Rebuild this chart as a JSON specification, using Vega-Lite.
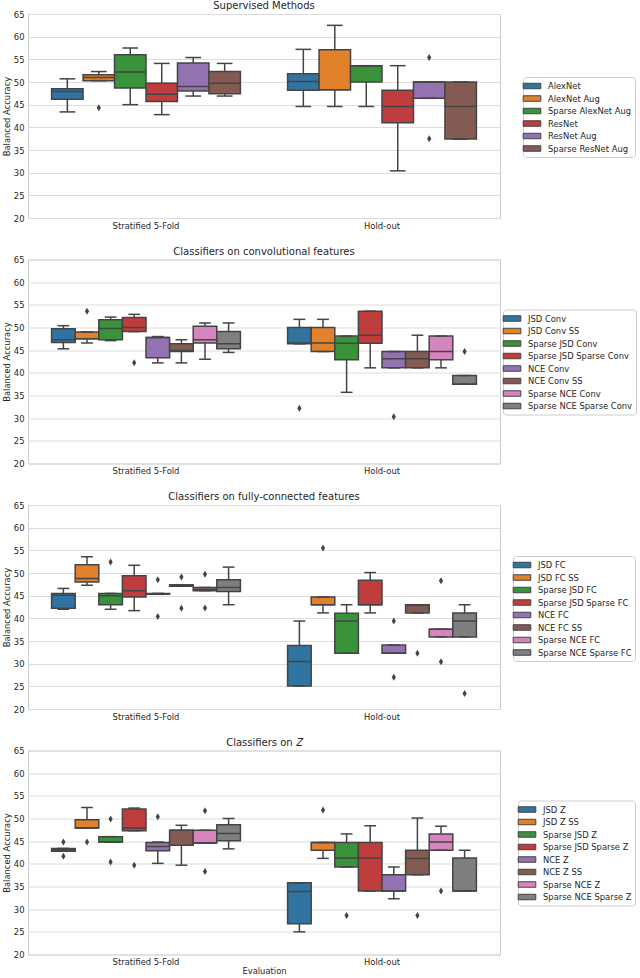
{
"$schema":"https://vega.github.io/schema/vega-lite/v6.json",
"padding":{"left":1,"top":0,"right":0,"bottom":0},
"spacing":15.5,
"datasets":{
"b1":[
{"g":"Stratified 5-Fold","m":"AlexNet","lo":43.4,"q1":46.2,"med":47.9,"q3":48.5,"hi":50.7},
{"g":"Stratified 5-Fold","m":"AlexNet Aug","lo":50.3,"q1":50.3,"med":51.0,"q3":51.6,"hi":52.3},
{"g":"Stratified 5-Fold","m":"Sparse AlexNet Aug","lo":45.0,"q1":48.7,"med":52.2,"q3":56.0,"hi":57.5},
{"g":"Stratified 5-Fold","m":"ResNet","lo":42.8,"q1":45.7,"med":47.3,"q3":49.7,"hi":54.1},
{"g":"Stratified 5-Fold","m":"ResNet Aug","lo":46.9,"q1":48.0,"med":49.0,"q3":54.2,"hi":55.4},
{"g":"Stratified 5-Fold","m":"Sparse ResNet Aug","lo":46.9,"q1":47.4,"med":49.7,"q3":52.3,"hi":54.1},
{"g":"Hold-out","m":"AlexNet","lo":44.6,"q1":48.2,"med":50.1,"q3":51.8,"hi":57.2},
{"g":"Hold-out","m":"AlexNet Aug","lo":44.6,"q1":48.3,"med":48.3,"q3":57.1,"hi":62.5},
{"g":"Hold-out","m":"Sparse AlexNet Aug","lo":44.6,"q1":50.0,"med":53.6,"q3":53.6,"hi":53.6},
{"g":"Hold-out","m":"ResNet","lo":30.4,"q1":41.0,"med":44.6,"q3":48.2,"hi":53.6},
{"g":"Hold-out","m":"ResNet Aug","lo":46.4,"q1":46.4,"med":50.0,"q3":50.0,"hi":50.0},
{"g":"Hold-out","m":"Sparse ResNet Aug","lo":37.4,"q1":37.4,"med":44.6,"q3":50.0,"hi":50.0}
],
"o1":[
{"g":"Stratified 5-Fold","m":"AlexNet Aug","v":44.3},
{"g":"Hold-out","m":"ResNet Aug","v":55.4},
{"g":"Hold-out","m":"ResNet Aug","v":37.5}
],
"b2":[
{"g":"Stratified 5-Fold","m":"JSD Conv","lo":45.3,"q1":46.7,"med":47.3,"q3":49.7,"hi":50.4},
{"g":"Stratified 5-Fold","m":"JSD Conv SS","lo":46.6,"q1":47.5,"med":47.5,"q3":49.0,"hi":49.0},
{"g":"Stratified 5-Fold","m":"Sparse JSD Conv","lo":47.1,"q1":47.3,"med":49.8,"q3":51.7,"hi":52.3},
{"g":"Stratified 5-Fold","m":"Sparse JSD Sparse Conv","lo":49.1,"q1":49.1,"med":50.0,"q3":52.2,"hi":52.9},
{"g":"Stratified 5-Fold","m":"NCE Conv","lo":42.2,"q1":43.3,"med":47.8,"q3":47.8,"hi":48.0},
{"g":"Stratified 5-Fold","m":"NCE Conv SS","lo":42.2,"q1":44.7,"med":44.9,"q3":46.4,"hi":47.3},
{"g":"Stratified 5-Fold","m":"Sparse NCE Conv","lo":43.0,"q1":46.6,"med":47.3,"q3":50.3,"hi":51.0},
{"g":"Stratified 5-Fold","m":"Sparse NCE Sparse Conv","lo":44.5,"q1":45.3,"med":46.4,"q3":49.1,"hi":51.0},
{"g":"Hold-out","m":"JSD Conv","lo":46.4,"q1":46.4,"med":46.6,"q3":50.0,"hi":51.8},
{"g":"Hold-out","m":"JSD Conv SS","lo":44.7,"q1":44.7,"med":46.6,"q3":50.0,"hi":51.8},
{"g":"Hold-out","m":"Sparse JSD Conv","lo":35.7,"q1":42.9,"med":46.5,"q3":48.1,"hi":48.1},
{"g":"Hold-out","m":"Sparse JSD Sparse Conv","lo":41.1,"q1":46.5,"med":48.3,"q3":53.6,"hi":53.6},
{"g":"Hold-out","m":"NCE Conv","lo":41.1,"q1":41.1,"med":43.1,"q3":44.7,"hi":44.7},
{"g":"Hold-out","m":"NCE Conv SS","lo":41.1,"q1":41.1,"med":43.1,"q3":44.7,"hi":48.3},
{"g":"Hold-out","m":"Sparse NCE Conv","lo":41.1,"q1":42.9,"med":44.7,"q3":48.1,"hi":48.1},
{"g":"Hold-out","m":"Sparse NCE Sparse Conv","lo":37.5,"q1":37.5,"med":37.5,"q3":39.4,"hi":39.4}
],
"o2":[
{"g":"Stratified 5-Fold","m":"JSD Conv SS","v":53.6},
{"g":"Stratified 5-Fold","m":"Sparse JSD Sparse Conv","v":42.2},
{"g":"Hold-out","m":"JSD Conv","v":32.2},
{"g":"Hold-out","m":"NCE Conv","v":30.3},
{"g":"Hold-out","m":"Sparse NCE Sparse Conv","v":44.7}
],
"b3":[
{"g":"Stratified 5-Fold","m":"JSD FC","lo":42.0,"q1":42.2,"med":45.1,"q3":45.5,"hi":46.6},
{"g":"Stratified 5-Fold","m":"JSD FC SS","lo":47.3,"q1":48.0,"med":48.8,"q3":51.8,"hi":53.6},
{"g":"Stratified 5-Fold","m":"Sparse JSD FC","lo":42.0,"q1":43.0,"med":45.0,"q3":45.5,"hi":45.5},
{"g":"Stratified 5-Fold","m":"Sparse JSD Sparse FC","lo":41.7,"q1":44.7,"med":46.1,"q3":49.4,"hi":51.7},
{"g":"Stratified 5-Fold","m":"NCE FC","lo":45.3,"q1":45.3,"med":45.3,"q3":45.5,"hi":45.5},
{"g":"Stratified 5-Fold","m":"NCE FC SS","lo":47.1,"q1":47.1,"med":47.1,"q3":47.4,"hi":47.4},
{"g":"Stratified 5-Fold","m":"Sparse NCE FC","lo":46.1,"q1":46.1,"med":46.4,"q3":46.8,"hi":46.8},
{"g":"Stratified 5-Fold","m":"Sparse NCE Sparse FC","lo":43.0,"q1":45.9,"med":46.8,"q3":48.5,"hi":51.3},
{"g":"Hold-out","m":"JSD FC","lo":25.1,"q1":25.1,"med":30.5,"q3":34.0,"hi":39.4},
{"g":"Hold-out","m":"JSD FC SS","lo":41.2,"q1":43.0,"med":43.0,"q3":44.7,"hi":44.7},
{"g":"Hold-out","m":"Sparse JSD FC","lo":32.3,"q1":32.3,"med":39.4,"q3":41.1,"hi":43.0},
{"g":"Hold-out","m":"Sparse JSD Sparse FC","lo":41.2,"q1":43.0,"med":43.0,"q3":48.4,"hi":50.1},
{"g":"Hold-out","m":"NCE FC","lo":32.3,"q1":32.3,"med":32.3,"q3":34.1,"hi":34.1},
{"g":"Hold-out","m":"NCE FC SS","lo":41.2,"q1":41.2,"med":43.0,"q3":43.0,"hi":43.0},
{"g":"Hold-out","m":"Sparse NCE FC","lo":35.9,"q1":35.9,"med":37.6,"q3":37.6,"hi":37.6},
{"g":"Hold-out","m":"Sparse NCE Sparse FC","lo":35.9,"q1":35.9,"med":39.4,"q3":41.2,"hi":43.0}
],
"o3":[
{"g":"Stratified 5-Fold","m":"Sparse JSD FC","v":52.4},
{"g":"Stratified 5-Fold","m":"NCE FC","v":48.5},
{"g":"Stratified 5-Fold","m":"NCE FC","v":40.4},
{"g":"Stratified 5-Fold","m":"NCE FC SS","v":49.1},
{"g":"Stratified 5-Fold","m":"NCE FC SS","v":42.2},
{"g":"Stratified 5-Fold","m":"Sparse NCE FC","v":49.7},
{"g":"Stratified 5-Fold","m":"Sparse NCE FC","v":42.3},
{"g":"Hold-out","m":"JSD FC SS","v":55.5},
{"g":"Hold-out","m":"NCE FC","v":39.4},
{"g":"Hold-out","m":"NCE FC","v":27.0},
{"g":"Hold-out","m":"NCE FC SS","v":32.3},
{"g":"Hold-out","m":"Sparse NCE FC","v":48.3},
{"g":"Hold-out","m":"Sparse NCE FC","v":30.4},
{"g":"Hold-out","m":"Sparse NCE Sparse FC","v":23.4}
],
"b4":[
{"g":"Stratified 5-Fold","m":"JSD Z","lo":42.8,"q1":42.8,"med":43.1,"q3":43.4,"hi":43.4},
{"g":"Stratified 5-Fold","m":"JSD Z SS","lo":47.9,"q1":47.9,"med":47.9,"q3":49.7,"hi":52.4},
{"g":"Stratified 5-Fold","m":"Sparse JSD Z","lo":44.8,"q1":44.8,"med":44.8,"q3":46.0,"hi":46.0},
{"g":"Stratified 5-Fold","m":"Sparse JSD Sparse Z","lo":47.3,"q1":47.3,"med":47.9,"q3":52.1,"hi":52.3},
{"g":"Stratified 5-Fold","m":"NCE Z","lo":40.1,"q1":42.9,"med":43.8,"q3":44.7,"hi":44.8},
{"g":"Stratified 5-Fold","m":"NCE Z SS","lo":39.7,"q1":44.1,"med":47.4,"q3":47.4,"hi":48.5},
{"g":"Stratified 5-Fold","m":"Sparse NCE Z","lo":44.6,"q1":44.6,"med":44.6,"q3":47.4,"hi":47.4},
{"g":"Stratified 5-Fold","m":"Sparse NCE Sparse Z","lo":43.3,"q1":45.1,"med":46.7,"q3":48.6,"hi":50.0},
{"g":"Hold-out","m":"JSD Z","lo":25.0,"q1":26.8,"med":33.9,"q3":35.8,"hi":35.8},
{"g":"Hold-out","m":"JSD Z SS","lo":41.2,"q1":43.0,"med":44.7,"q3":44.7,"hi":44.7},
{"g":"Hold-out","m":"Sparse JSD Z","lo":39.3,"q1":39.3,"med":41.3,"q3":44.7,"hi":46.6},
{"g":"Hold-out","m":"Sparse JSD Sparse Z","lo":34.0,"q1":34.0,"med":41.3,"q3":44.7,"hi":48.4},
{"g":"Hold-out","m":"NCE Z","lo":32.3,"q1":34.0,"med":34.0,"q3":37.6,"hi":39.3},
{"g":"Hold-out","m":"NCE Z SS","lo":37.6,"q1":37.6,"med":41.2,"q3":43.0,"hi":50.1},
{"g":"Hold-out","m":"Sparse NCE Z","lo":43.0,"q1":43.0,"med":44.8,"q3":46.6,"hi":48.3},
{"g":"Hold-out","m":"Sparse NCE Sparse Z","lo":34.0,"q1":34.0,"med":34.0,"q3":41.3,"hi":43.0}
],
"o4":[
{"g":"Stratified 5-Fold","m":"JSD Z","v":44.8},
{"g":"Stratified 5-Fold","m":"JSD Z","v":41.7},
{"g":"Stratified 5-Fold","m":"JSD Z SS","v":44.8},
{"g":"Stratified 5-Fold","m":"Sparse JSD Z","v":49.9},
{"g":"Stratified 5-Fold","m":"Sparse JSD Z","v":40.4},
{"g":"Stratified 5-Fold","m":"Sparse JSD Sparse Z","v":39.7},
{"g":"Stratified 5-Fold","m":"NCE Z","v":50.4},
{"g":"Stratified 5-Fold","m":"Sparse NCE Z","v":51.7},
{"g":"Stratified 5-Fold","m":"Sparse NCE Z","v":38.3},
{"g":"Hold-out","m":"JSD Z SS","v":51.9},
{"g":"Hold-out","m":"Sparse JSD Z","v":28.6},
{"g":"Hold-out","m":"NCE Z SS","v":28.6},
{"g":"Hold-out","m":"Sparse NCE Z","v":34.0}
]
},
"vconcat":[
{
"width":472,"height":204,
"title":"Supervised Methods",
"layer":[
{"data":{"name":"b1"},"mark":{"type":"rule","color":"#444444","strokeWidth":1.5},
"encoding":{"x":{"field":"g","type":"nominal","sort":["Stratified 5-Fold","Hold-out"],"scale":{"paddingInner":0.2,"paddingOuter":0.1},"title":null},
"xOffset":{"field":"m","type":"nominal","scale":{"domain":["AlexNet","AlexNet Aug","Sparse AlexNet Aug","ResNet","ResNet Aug","Sparse ResNet Aug"],"paddingInner":0,"paddingOuter":0}},
"y":{"field":"lo","type":"quantitative","scale":{"domain":[20,65],"nice":false,"zero":false},"axis":{"values":[20,25,30,35,40,45,50,55,60,65],"labelOverlap":false},"title":"Balanced Accuracy"},"y2":{"field":"hi"}}},
{"data":{"name":"b1"},"mark":{"type":"bar","stroke":"#444444","strokeWidth":1.5},
"encoding":{"x":{"field":"g","type":"nominal","sort":["Stratified 5-Fold","Hold-out"],"title":null},
"xOffset":{"field":"m","type":"nominal"},
"y":{"field":"q1","type":"quantitative","scale":{"domain":[20,65],"nice":false,"zero":false},"axis":{"values":[20,25,30,35,40,45,50,55,60,65],"labelOverlap":false},"title":"Balanced Accuracy"},"y2":{"field":"q3"},
"color":{"field":"m","type":"nominal","scale":{"domain":["AlexNet","AlexNet Aug","Sparse AlexNet Aug","ResNet","ResNet Aug","Sparse ResNet Aug"],"range":["#3274a1","#e1812c","#3a923a","#c03d3e","#9372b2","#845b53"]},"legend":{"orient":"none","legendX":495,"legendY":63}}}},
{"data":{"name":"b1"},"mark":{"type":"bar","fillOpacity":0,"stroke":"#444444","strokeWidth":1.5},
"encoding":{"x":{"field":"g","type":"nominal","sort":["Stratified 5-Fold","Hold-out"],"title":null},"xOffset":{"field":"m","type":"nominal"},
"y":{"field":"med","type":"quantitative","scale":{"domain":[20,65],"nice":false,"zero":false},"axis":{"values":[20,25,30,35,40,45,50,55,60,65],"labelOverlap":false},"title":"Balanced Accuracy"},"y2":{"field":"med"}}},
{"data":{"name":"b1"},"mark":{"type":"tick","color":"#444444","thickness":1.5,"size":15.7,"opacity":1},
"encoding":{"x":{"field":"g","type":"nominal","sort":["Stratified 5-Fold","Hold-out"],"title":null},"xOffset":{"field":"m","type":"nominal"},
"y":{"field":"lo","type":"quantitative","scale":{"domain":[20,65],"nice":false,"zero":false},"axis":{"values":[20,25,30,35,40,45,50,55,60,65],"labelOverlap":false},"title":"Balanced Accuracy"}}},
{"data":{"name":"b1"},"mark":{"type":"tick","color":"#444444","thickness":1.5,"size":15.7,"opacity":1},
"encoding":{"x":{"field":"g","type":"nominal","sort":["Stratified 5-Fold","Hold-out"],"title":null},"xOffset":{"field":"m","type":"nominal"},
"y":{"field":"hi","type":"quantitative","scale":{"domain":[20,65],"nice":false,"zero":false},"axis":{"values":[20,25,30,35,40,45,50,55,60,65],"labelOverlap":false},"title":"Balanced Accuracy"}}},
{"data":{"name":"o1"},"mark":{"type":"point","shape":"M0,-1L0.6,0L0,1L-0.6,0Z","filled":true,"color":"#444444","opacity":1,"size":49},
"encoding":{"x":{"field":"g","type":"nominal","sort":["Stratified 5-Fold","Hold-out"],"title":null},"xOffset":{"field":"m","type":"nominal"},
"y":{"field":"v","type":"quantitative","scale":{"domain":[20,65],"nice":false,"zero":false},"axis":{"values":[20,25,30,35,40,45,50,55,60,65],"labelOverlap":false},"title":"Balanced Accuracy"}}}
]
},
{
"width":472,"height":204,
"title":"Classifiers on convolutional features",
"layer":[
{"data":{"name":"b2"},"mark":{"type":"rule","color":"#444444","strokeWidth":1.5},
"encoding":{"x":{"field":"g","type":"nominal","sort":["Stratified 5-Fold","Hold-out"],"scale":{"paddingInner":0.2,"paddingOuter":0.1},"title":null},
"xOffset":{"field":"m","type":"nominal","scale":{"domain":["JSD Conv","JSD Conv SS","Sparse JSD Conv","Sparse JSD Sparse Conv","NCE Conv","NCE Conv SS","Sparse NCE Conv","Sparse NCE Sparse Conv"],"paddingInner":0,"paddingOuter":0}},
"y":{"field":"lo","type":"quantitative","scale":{"domain":[20,65],"nice":false,"zero":false},"axis":{"values":[20,25,30,35,40,45,50,55,60,65],"labelOverlap":false},"title":"Balanced Accuracy"},"y2":{"field":"hi"}}},
{"data":{"name":"b2"},"mark":{"type":"bar","stroke":"#444444","strokeWidth":1.5},
"encoding":{"x":{"field":"g","type":"nominal","sort":["Stratified 5-Fold","Hold-out"],"title":null},
"xOffset":{"field":"m","type":"nominal"},
"y":{"field":"q1","type":"quantitative","scale":{"domain":[20,65],"nice":false,"zero":false},"axis":{"values":[20,25,30,35,40,45,50,55,60,65],"labelOverlap":false},"title":"Balanced Accuracy"},"y2":{"field":"q3"},
"color":{"field":"m","type":"nominal","scale":{"domain":["JSD Conv","JSD Conv SS","Sparse JSD Conv","Sparse JSD Sparse Conv","NCE Conv","NCE Conv SS","Sparse NCE Conv","Sparse NCE Sparse Conv"],"range":["#3274a1","#e1812c","#3a923a","#c03d3e","#9372b2","#845b53","#d684bd","#7f7f7f"]},"legend":{"orient":"none","legendX":475,"legendY":50}}}},
{"data":{"name":"b2"},"mark":{"type":"bar","fillOpacity":0,"stroke":"#444444","strokeWidth":1.5},
"encoding":{"x":{"field":"g","type":"nominal","sort":["Stratified 5-Fold","Hold-out"],"title":null},"xOffset":{"field":"m","type":"nominal"},
"y":{"field":"med","type":"quantitative","scale":{"domain":[20,65],"nice":false,"zero":false},"axis":{"values":[20,25,30,35,40,45,50,55,60,65],"labelOverlap":false},"title":"Balanced Accuracy"},"y2":{"field":"med"}}},
{"data":{"name":"b2"},"mark":{"type":"tick","color":"#444444","thickness":1.5,"size":11.8,"opacity":1},
"encoding":{"x":{"field":"g","type":"nominal","sort":["Stratified 5-Fold","Hold-out"],"title":null},"xOffset":{"field":"m","type":"nominal"},
"y":{"field":"lo","type":"quantitative","scale":{"domain":[20,65],"nice":false,"zero":false},"axis":{"values":[20,25,30,35,40,45,50,55,60,65],"labelOverlap":false},"title":"Balanced Accuracy"}}},
{"data":{"name":"b2"},"mark":{"type":"tick","color":"#444444","thickness":1.5,"size":11.8,"opacity":1},
"encoding":{"x":{"field":"g","type":"nominal","sort":["Stratified 5-Fold","Hold-out"],"title":null},"xOffset":{"field":"m","type":"nominal"},
"y":{"field":"hi","type":"quantitative","scale":{"domain":[20,65],"nice":false,"zero":false},"axis":{"values":[20,25,30,35,40,45,50,55,60,65],"labelOverlap":false},"title":"Balanced Accuracy"}}},
{"data":{"name":"o2"},"mark":{"type":"point","shape":"M0,-1L0.6,0L0,1L-0.6,0Z","filled":true,"color":"#444444","opacity":1,"size":49},
"encoding":{"x":{"field":"g","type":"nominal","sort":["Stratified 5-Fold","Hold-out"],"title":null},"xOffset":{"field":"m","type":"nominal"},
"y":{"field":"v","type":"quantitative","scale":{"domain":[20,65],"nice":false,"zero":false},"axis":{"values":[20,25,30,35,40,45,50,55,60,65],"labelOverlap":false},"title":"Balanced Accuracy"}}}
]
},
{
"width":472,"height":204,
"title":"Classifiers on fully-connected features",
"layer":[
{"data":{"name":"b3"},"mark":{"type":"rule","color":"#444444","strokeWidth":1.5},
"encoding":{"x":{"field":"g","type":"nominal","sort":["Stratified 5-Fold","Hold-out"],"scale":{"paddingInner":0.2,"paddingOuter":0.1},"title":null},
"xOffset":{"field":"m","type":"nominal","scale":{"domain":["JSD FC","JSD FC SS","Sparse JSD FC","Sparse JSD Sparse FC","NCE FC","NCE FC SS","Sparse NCE FC","Sparse NCE Sparse FC"],"paddingInner":0,"paddingOuter":0}},
"y":{"field":"lo","type":"quantitative","scale":{"domain":[20,65],"nice":false,"zero":false},"axis":{"values":[20,25,30,35,40,45,50,55,60,65],"labelOverlap":false},"title":"Balanced Accuracy"},"y2":{"field":"hi"}}},
{"data":{"name":"b3"},"mark":{"type":"bar","stroke":"#444444","strokeWidth":1.5},
"encoding":{"x":{"field":"g","type":"nominal","sort":["Stratified 5-Fold","Hold-out"],"title":null},
"xOffset":{"field":"m","type":"nominal"},
"y":{"field":"q1","type":"quantitative","scale":{"domain":[20,65],"nice":false,"zero":false},"axis":{"values":[20,25,30,35,40,45,50,55,60,65],"labelOverlap":false},"title":"Balanced Accuracy"},"y2":{"field":"q3"},
"color":{"field":"m","type":"nominal","scale":{"domain":["JSD FC","JSD FC SS","Sparse JSD FC","Sparse JSD Sparse FC","NCE FC","NCE FC SS","Sparse NCE FC","Sparse NCE Sparse FC"],"range":["#3274a1","#e1812c","#3a923a","#c03d3e","#9372b2","#845b53","#d684bd","#7f7f7f"]},"legend":{"orient":"none","legendX":485,"legendY":51}}}},
{"data":{"name":"b3"},"mark":{"type":"bar","fillOpacity":0,"stroke":"#444444","strokeWidth":1.5},
"encoding":{"x":{"field":"g","type":"nominal","sort":["Stratified 5-Fold","Hold-out"],"title":null},"xOffset":{"field":"m","type":"nominal"},
"y":{"field":"med","type":"quantitative","scale":{"domain":[20,65],"nice":false,"zero":false},"axis":{"values":[20,25,30,35,40,45,50,55,60,65],"labelOverlap":false},"title":"Balanced Accuracy"},"y2":{"field":"med"}}},
{"data":{"name":"b3"},"mark":{"type":"tick","color":"#444444","thickness":1.5,"size":11.8,"opacity":1},
"encoding":{"x":{"field":"g","type":"nominal","sort":["Stratified 5-Fold","Hold-out"],"title":null},"xOffset":{"field":"m","type":"nominal"},
"y":{"field":"lo","type":"quantitative","scale":{"domain":[20,65],"nice":false,"zero":false},"axis":{"values":[20,25,30,35,40,45,50,55,60,65],"labelOverlap":false},"title":"Balanced Accuracy"}}},
{"data":{"name":"b3"},"mark":{"type":"tick","color":"#444444","thickness":1.5,"size":11.8,"opacity":1},
"encoding":{"x":{"field":"g","type":"nominal","sort":["Stratified 5-Fold","Hold-out"],"title":null},"xOffset":{"field":"m","type":"nominal"},
"y":{"field":"hi","type":"quantitative","scale":{"domain":[20,65],"nice":false,"zero":false},"axis":{"values":[20,25,30,35,40,45,50,55,60,65],"labelOverlap":false},"title":"Balanced Accuracy"}}},
{"data":{"name":"o3"},"mark":{"type":"point","shape":"M0,-1L0.6,0L0,1L-0.6,0Z","filled":true,"color":"#444444","opacity":1,"size":49},
"encoding":{"x":{"field":"g","type":"nominal","sort":["Stratified 5-Fold","Hold-out"],"title":null},"xOffset":{"field":"m","type":"nominal"},
"y":{"field":"v","type":"quantitative","scale":{"domain":[20,65],"nice":false,"zero":false},"axis":{"values":[20,25,30,35,40,45,50,55,60,65],"labelOverlap":false},"title":"Balanced Accuracy"}}}
]
},
{
"width":472,"height":204,
"title":"Classifiers on 𝑍",
"layer":[
{"data":{"name":"b4"},"mark":{"type":"rule","color":"#444444","strokeWidth":1.5},
"encoding":{"x":{"field":"g","type":"nominal","sort":["Stratified 5-Fold","Hold-out"],"scale":{"paddingInner":0.2,"paddingOuter":0.1},"title":"Evaluation"},
"xOffset":{"field":"m","type":"nominal","scale":{"domain":["JSD Z","JSD Z SS","Sparse JSD Z","Sparse JSD Sparse Z","NCE Z","NCE Z SS","Sparse NCE Z","Sparse NCE Sparse Z"],"paddingInner":0,"paddingOuter":0}},
"y":{"field":"lo","type":"quantitative","scale":{"domain":[20,65],"nice":false,"zero":false},"axis":{"values":[20,25,30,35,40,45,50,55,60,65],"labelOverlap":false},"title":"Balanced Accuracy"},"y2":{"field":"hi"}}},
{"data":{"name":"b4"},"mark":{"type":"bar","stroke":"#444444","strokeWidth":1.5},
"encoding":{"x":{"field":"g","type":"nominal","sort":["Stratified 5-Fold","Hold-out"],"title":"Evaluation"},
"xOffset":{"field":"m","type":"nominal"},
"y":{"field":"q1","type":"quantitative","scale":{"domain":[20,65],"nice":false,"zero":false},"axis":{"values":[20,25,30,35,40,45,50,55,60,65],"labelOverlap":false},"title":"Balanced Accuracy"},"y2":{"field":"q3"},
"color":{"field":"m","type":"nominal","scale":{"domain":["JSD Z","JSD Z SS","Sparse JSD Z","Sparse JSD Sparse Z","NCE Z","NCE Z SS","Sparse NCE Z","Sparse NCE Sparse Z"],"range":["#3274a1","#e1812c","#3a923a","#c03d3e","#9372b2","#845b53","#d684bd","#7f7f7f"]},"legend":{"orient":"none","legendX":490,"legendY":50}}}},
{"data":{"name":"b4"},"mark":{"type":"bar","fillOpacity":0,"stroke":"#444444","strokeWidth":1.5},
"encoding":{"x":{"field":"g","type":"nominal","sort":["Stratified 5-Fold","Hold-out"],"title":"Evaluation"},"xOffset":{"field":"m","type":"nominal"},
"y":{"field":"med","type":"quantitative","scale":{"domain":[20,65],"nice":false,"zero":false},"axis":{"values":[20,25,30,35,40,45,50,55,60,65],"labelOverlap":false},"title":"Balanced Accuracy"},"y2":{"field":"med"}}},
{"data":{"name":"b4"},"mark":{"type":"tick","color":"#444444","thickness":1.5,"size":11.8,"opacity":1},
"encoding":{"x":{"field":"g","type":"nominal","sort":["Stratified 5-Fold","Hold-out"],"title":"Evaluation"},"xOffset":{"field":"m","type":"nominal"},
"y":{"field":"lo","type":"quantitative","scale":{"domain":[20,65],"nice":false,"zero":false},"axis":{"values":[20,25,30,35,40,45,50,55,60,65],"labelOverlap":false},"title":"Balanced Accuracy"}}},
{"data":{"name":"b4"},"mark":{"type":"tick","color":"#444444","thickness":1.5,"size":11.8,"opacity":1},
"encoding":{"x":{"field":"g","type":"nominal","sort":["Stratified 5-Fold","Hold-out"],"title":"Evaluation"},"xOffset":{"field":"m","type":"nominal"},
"y":{"field":"hi","type":"quantitative","scale":{"domain":[20,65],"nice":false,"zero":false},"axis":{"values":[20,25,30,35,40,45,50,55,60,65],"labelOverlap":false},"title":"Balanced Accuracy"}}},
{"data":{"name":"o4"},"mark":{"type":"point","shape":"M0,-1L0.6,0L0,1L-0.6,0Z","filled":true,"color":"#444444","opacity":1,"size":49},
"encoding":{"x":{"field":"g","type":"nominal","sort":["Stratified 5-Fold","Hold-out"],"title":"Evaluation"},"xOffset":{"field":"m","type":"nominal"},
"y":{"field":"v","type":"quantitative","scale":{"domain":[20,65],"nice":false,"zero":false},"axis":{"values":[20,25,30,35,40,45,50,55,60,65],"labelOverlap":false},"title":"Balanced Accuracy"}}}
]
}
],
"resolve":{"scale":{"color":"independent","xOffset":"independent"},"legend":{"color":"independent"}},
"config":{
"font":"DejaVu Sans",
"view":{"stroke":"#cccccc","strokeWidth":1},
"axis":{"ticks":false,"domain":false,"labelFontSize":8.4,"titleFontSize":8.4,"titleFontWeight":"normal","labelColor":"#262626","titleColor":"#262626","gridColor":"#dddddd","gridWidth":1},
"axisX":{"grid":false,"labelPadding":3,"labelAngle":0,"titlePadding":1},
"axisY":{"grid":true,"labelPadding":4,"titlePadding":2},
"title":{"fontSize":10,"fontWeight":"normal","color":"#262626","offset":-1},
"legend":{"title":null,"symbolType":"M-1.6,-0.5H1.6V0.5H-1.6Z","symbolSize":121,"symbolStrokeColor":"#444444","symbolStrokeWidth":1,"symbolOpacity":1,"labelFontSize":8.4,"labelColor":"#262626","labelOffset":10,"rowPadding":1.5,"padding":3,"strokeColor":"#cccccc","cornerRadius":3,"fillColor":"white"}
}
}
